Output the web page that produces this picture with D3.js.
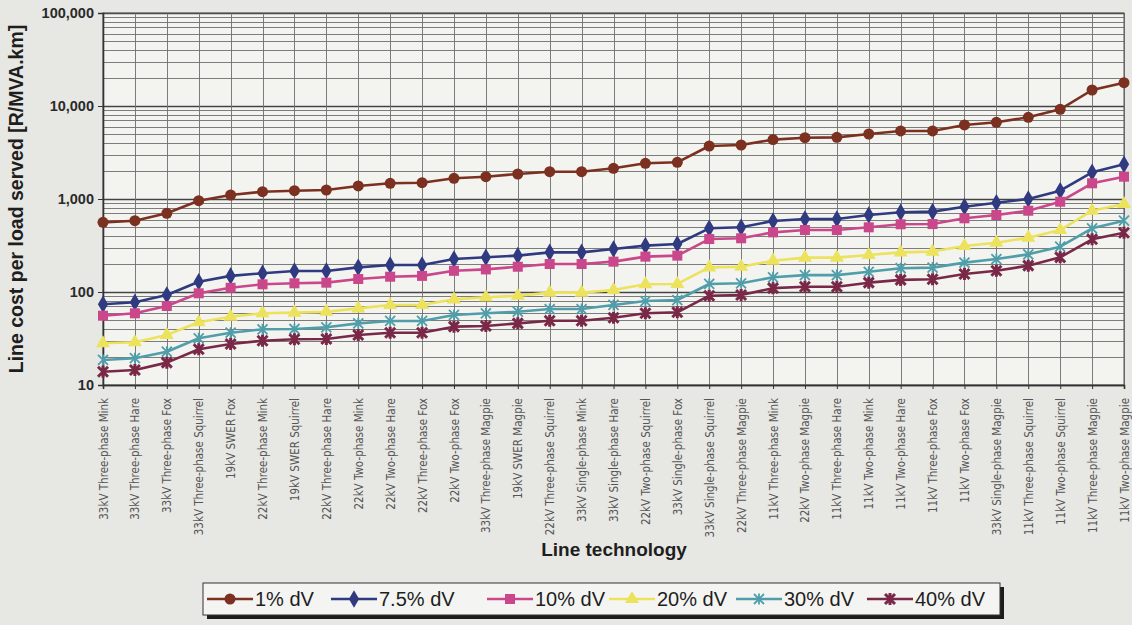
<!DOCTYPE html>
<html>
<head>
<meta charset="utf-8">
<script src="https://cdn.jsdelivr.net/npm/d3@7"></script>
<style>
  html, body { margin: 0; padding: 0; background: #e7e7e4; }
  svg { display: block; }
</style>
</head>
<body>
<svg id="chart" width="1132" height="625"></svg>
<script>
// Line technologies, sorted by cost at 1% voltage drop
const categories = [
  "33kV Three-phase Mink", "33kV Three-phase Hare", "33kV Three-phase Fox", "33kV Three-phase Squirrel",
  "19kV SWER Fox", "22kV Three-phase Mink", "19kV SWER Squirrel", "22kV Three-phase Hare",
  "22kV Two-phase Mink", "22kV Two-phase Hare", "22kV Three-phase Fox", "22kV Two-phase Fox",
  "33kV Three-phase Magpie", "19kV SWER Magpie", "22kV Three-phase Squirrel", "33kV Single-phase Mink",
  "33kV Single-phase Hare", "22kV Two-phase Squirrel", "33kV Single-phase Fox", "33kV Single-phase Squirrel",
  "22kV Three-phase Magpie", "11kV Three-phase Mink", "22kV Two-phase Magpie", "11kV Three-phase Hare",
  "11kV Two-phase Mink", "11kV Two-phase Hare", "11kV Three-phase Fox", "11kV Two-phase Fox",
  "33kV Single-phase Magpie", "11kV Three-phase Squirrel", "11kV Two-phase Squirrel", "11kV Three-phase Magpie",
  "11kV Two-phase Magpie"
];

// Cost per load served [R/MVA.km] for each allowed voltage drop
const dv1 = [561, 584, 702, 959, 1104, 1198, 1228, 1250, 1381, 1475, 1497, 1670, 1738, 1857, 1966, 1966,
  2138, 2421, 2482, 3715, 3808, 4350, 4562, 4600, 5000, 5387, 5387, 6250, 6680, 7555, 9220, 14860, 17800];
const dv7_5 = [73.8, 77.5, 92.9, 129, 149, 159, 168, 168, 184, 195, 195, 226, 236, 246, 267, 267,
  290, 315, 328, 484, 496, 580, 610, 610, 673, 719, 731, 827, 912, 1000, 1228, 1937, 2361];
const dv10 = [55.6, 59, 70.7, 96.8, 111, 121, 124, 126, 138, 146, 149, 169, 175, 187, 200, 200,
  212, 240, 246, 371, 378, 438, 464, 464, 496, 535, 538, 620, 673, 748, 935, 1475, 1738];
const dv20 = [28.1, 28.8, 34.5, 47.2, 54.3, 59, 60, 61.4, 66.7, 72.5, 72.5, 83.4, 87.7, 91.2, 98.4, 98.4,
  105, 121, 122, 184, 187, 217, 234, 234, 250, 267, 272, 312, 339, 384, 464, 748, 884];
const dv30 = [18.6, 19.4, 22.8, 31.8, 36.5, 39.7, 40, 41.7, 46, 48.8, 48.8, 56.6, 59, 61.4, 65.6, 65.6,
  72.5, 80, 82, 122, 124, 144, 152, 152, 165, 180, 183, 207, 226, 254, 307, 484, 584];
const dv40 = [13.9, 14.5, 17.4, 24.2, 27.6, 29.9, 31, 31.2, 34.5, 36.5, 36.5, 42.4, 43.1, 46, 49.1, 49.1,
  52.9, 59, 60.5, 91.2, 92.9, 110, 114, 114, 126, 135, 137, 156, 169, 192, 236, 369, 434];

const seriesNames = ["1% dV", "7.5% dV", "10% dV", "20% dV", "30% dV", "40% dV"];
const yTickValues = [10, 100, 1000, 10000, 100000];
const yTickLabels = ["10", "100", "1,000", "10,000", "100,000"];

const seriesStyle = [
  { color: "#7b3020", marker: "circle" },
  { color: "#2f3a80", marker: "diamond" },
  { color: "#c9478a", marker: "square" },
  { color: "#ede25c", marker: "triangle" },
  { color: "#4f9eaa", marker: "cross" },
  { color: "#7a2848", marker: "star" }
];
const seriesValues = [dv1, dv7_5, dv10, dv20, dv30, dv40];

const svg = d3.select("#chart");
const plot = { left: 103, right: 1124, top: 13, bottom: 385 };

const x = d3.scalePoint().domain(categories).range([plot.left, plot.right]).padding(0);
const y = d3.scaleLog().domain([10, 100000]).range([plot.bottom, plot.top]);

// plot background
svg.append("rect")
  .attr("x", plot.left).attr("y", plot.top)
  .attr("width", plot.right - plot.left).attr("height", plot.bottom - plot.top)
  .attr("fill", "#f3f3f0");

// horizontal grid: every log subdivision
const minorTicks = [];
for (let d = 10; d < 100000; d *= 10) {
  for (let k = 1; k <= 9; k++) minorTicks.push(d * k);
}
minorTicks.push(100000);
svg.append("g").selectAll("line").data(minorTicks).join("line")
  .attr("x1", plot.left).attr("x2", plot.right)
  .attr("y1", d => Math.round(y(d)) + 0.5).attr("y2", d => Math.round(y(d)) + 0.5)
  .attr("stroke", d => yTickValues.includes(d) ? "#444" : "#6e6e6e")
  .attr("stroke-width", d => yTickValues.includes(d) ? 1.3 : 0.9);

// vertical grid at each category
svg.append("g").selectAll("line").data(categories).join("line")
  .attr("x1", d => Math.round(x(d)) + 0.5).attr("x2", d => Math.round(x(d)) + 0.5)
  .attr("y1", plot.top).attr("y2", plot.bottom)
  .attr("stroke", "#6e6e6e").attr("stroke-width", 0.9);

// plot frame
svg.append("rect")
  .attr("x", plot.left).attr("y", plot.top)
  .attr("width", plot.right - plot.left).attr("height", plot.bottom - plot.top)
  .attr("fill", "none").attr("stroke", "#555").attr("stroke-width", 1);

// y axis
const yAxis = d3.axisLeft(y).tickValues(yTickValues)
  .tickFormat((d, i) => yTickLabels[i]).tickSize(5).tickPadding(4);
const gy = svg.append("g").attr("transform", `translate(${plot.left},0)`).call(yAxis);
gy.select(".domain").attr("stroke", "#333").attr("stroke-width", 1.6);
gy.selectAll(".tick line").attr("stroke", "#333");
gy.selectAll(".tick text")
  .attr("font-family", "Liberation Sans, Arial, sans-serif")
  .attr("font-size", 14.5).attr("font-weight", "bold").attr("fill", "#2a2a2a");

// x axis
const xAxis = d3.axisBottom(x).tickSize(4).tickPadding(0);
const gx = svg.append("g").attr("transform", `translate(0,${plot.bottom})`).call(xAxis);
gx.select(".domain").attr("stroke", "#333").attr("stroke-width", 1.6);
gx.selectAll(".tick line").attr("stroke", "#333");
gx.selectAll(".tick text")
  .attr("font-family", "Liberation Sans Narrow, DejaVu Sans Condensed, Arial Narrow, sans-serif")
  .attr("font-size", 11.5).attr("fill", "#555")
  .attr("text-anchor", "end")
  .attr("dy", "0.35em")
  .attr("transform", "translate(0,13) rotate(-90)")
  .attr("x", 0).attr("y", 0);

// axis titles
svg.append("text")
  .attr("transform", `translate(23,${(plot.top + plot.bottom) / 2}) rotate(-90)`)
  .attr("text-anchor", "middle")
  .attr("font-family", "Liberation Sans, Arial, sans-serif")
  .attr("font-size", 19.5).attr("font-weight", "bold").attr("fill", "#1e1e1e")
  .text("Line cost per load served [R/MVA.km]");
svg.append("text")
  .attr("x", 614).attr("y", 556)
  .attr("text-anchor", "middle")
  .attr("font-family", "Liberation Sans, Arial, sans-serif")
  .attr("font-size", 19).attr("font-weight", "bold").attr("fill", "#1e1e1e")
  .text("Line technology");

// marker drawing
function drawMarker(g, type, color, size) {
  const s = size;
  if (type === "circle") {
    g.append("circle").attr("r", s * 0.55).attr("fill", color);
  } else if (type === "diamond") {
    g.append("path").attr("d", d3.symbol(d3.symbolDiamond, s * s * 0.9)()).attr("fill", color);
  } else if (type === "square") {
    g.append("rect").attr("x", -s * 0.5).attr("y", -s * 0.5)
      .attr("width", s).attr("height", s).attr("fill", color);
  } else if (type === "triangle") {
    g.append("path").attr("d", d3.symbol(d3.symbolTriangle, s * s * 0.85)()).attr("fill", color);
  } else if (type === "cross") {
    const r = s * 0.5;
    g.append("path")
      .attr("d", `M${-r},${-r}L${r},${r}M${-r},${r}L${r},${-r}M0,${-r * 1.1}L0,${r * 1.1}`)
      .attr("stroke", color).attr("stroke-width", 1.8).attr("fill", "none");
  } else if (type === "star") {
    const r = s * 0.5;
    g.append("path")
      .attr("d", `M${-r},${-r}L${r},${r}M${-r},${r}L${r},${-r}M0,${-r * 1.2}L0,${r * 1.2}`)
      .attr("stroke", color).attr("stroke-width", 3).attr("fill", "none");
  }
}

// series lines and markers
const line = d3.line().x((d, i) => x(categories[i])).y(d => y(d));
seriesValues.forEach((vals, si) => {
  const st = seriesStyle[si];
  const g = svg.append("g");
  g.append("path").datum(vals).attr("d", line)
    .attr("fill", "none").attr("stroke", st.color).attr("stroke-width", 2.6)
    .attr("stroke-linejoin", "round");
  vals.forEach((v, i) => {
    const m = g.append("g").attr("transform", `translate(${x(categories[i])},${y(v)})`);
    drawMarker(m, st.marker, st.color, 10);
  });
});

// legend
const legend = { x: 203, y: 583, w: 797, h: 32 };
svg.append("rect")
  .attr("x", legend.x + 4).attr("y", legend.y + 4)
  .attr("width", legend.w).attr("height", legend.h).attr("fill", "#1c1c1c");
svg.append("rect")
  .attr("x", legend.x).attr("y", legend.y)
  .attr("width", legend.w).attr("height", legend.h)
  .attr("fill", "#f4f4f2").attr("stroke", "#333").attr("stroke-width", 1);

const legendLineStart = [207, 331, 487, 609, 736, 867];
seriesNames.forEach((name, i) => {
  const st = seriesStyle[i];
  const lx = legendLineStart[i];
  const ly = legend.y + legend.h / 2;
  svg.append("line")
    .attr("x1", lx).attr("x2", lx + 46).attr("y1", ly).attr("y2", ly)
    .attr("stroke", st.color).attr("stroke-width", 2.6);
  const m = svg.append("g").attr("transform", `translate(${lx + 23},${ly})`);
  drawMarker(m, st.marker, st.color, 10);
  svg.append("text")
    .attr("x", lx + 48).attr("y", ly).attr("dy", "0.36em")
    .attr("font-family", "Liberation Sans, Arial, sans-serif")
    .attr("font-size", 20).attr("fill", "#1e1e1e")
    .text(name);
});
</script>
</body>
</html>
